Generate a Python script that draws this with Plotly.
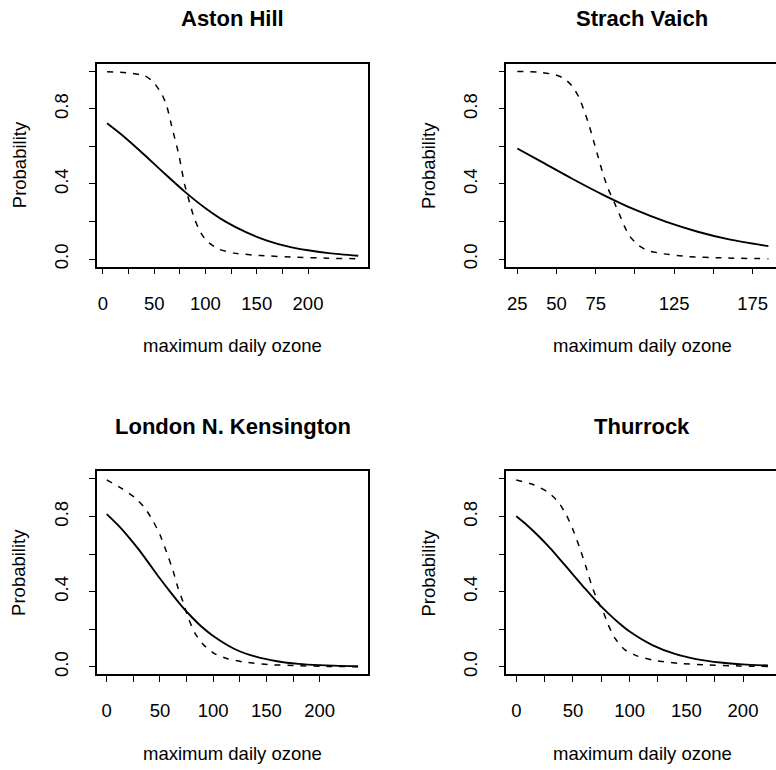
import plotly.graph_objects as go

W, H = 776, 770
FONT = "Liberation Sans, Arial, Helvetica, sans-serif"

titles = ["Aston Hill", "Strach Vaich", "London N. Kensington", "Thurrock"]
x_title = "maximum daily ozone"
y_title = "Probability"

# ---- Aston Hill ----
aston_solid_x = [4, 20, 40, 60, 80, 100, 120, 140, 160, 180, 200, 220, 249]
aston_solid_y = [0.723, 0.654, 0.557, 0.456, 0.358, 0.271, 0.198, 0.142, 0.099, 0.068, 0.047, 0.032, 0.018]
aston_dash_x = [4, 25, 41, 49, 57, 62, 66, 70, 74, 77, 80, 84.6, 88.8, 94.3, 100.8, 112, 128, 154, 187, 219, 249]
aston_dash_y = [0.998, 0.991, 0.975, 0.944, 0.882, 0.82, 0.732, 0.644, 0.556, 0.47, 0.39, 0.30, 0.222, 0.151, 0.099, 0.055, 0.032, 0.019, 0.011, 0.005, 0.002]

# ---- Strach Vaich ----
strach_solid_x = [25, 40, 60, 80, 100, 120, 140, 160, 185]
strach_solid_y = [0.589, 0.520, 0.428, 0.341, 0.263, 0.198, 0.146, 0.105, 0.069]
strach_dash_x = [25, 38, 48.7, 55, 60.4, 64.6, 67.8, 71, 73.7, 76.7, 79.4, 82.6, 86.9, 90, 93, 96.4, 101.7, 108, 118.6, 133.5, 154.7, 185]
strach_dash_y = [0.999, 0.996, 0.982, 0.961, 0.917, 0.856, 0.785, 0.706, 0.627, 0.539, 0.46, 0.38, 0.30, 0.24, 0.18, 0.125, 0.076, 0.046, 0.028, 0.014, 0.007, 0.002]

# ---- London N. Kensington ----
london_solid_x = [0, 10, 20, 30, 40, 50, 60, 70, 80, 90, 100, 120, 140, 160, 180, 200, 236]
london_solid_y = [0.813, 0.758, 0.695, 0.625, 0.548, 0.470, 0.396, 0.326, 0.264, 0.209, 0.164, 0.095, 0.054, 0.030, 0.016, 0.009, 0.003]
london_dash_x = [0, 14, 26.6, 36, 43.8, 50, 56, 62.5, 67, 72, 76.6, 82.8, 90.6, 101.6, 114, 129.7, 151.6, 176.6, 207.8, 236]
london_dash_y = [0.995, 0.95, 0.90, 0.844, 0.773, 0.703, 0.614, 0.508, 0.419, 0.34, 0.26, 0.18, 0.119, 0.069, 0.042, 0.025, 0.012, 0.007, 0.002, 0.001]

# ---- Thurrock ----
thurrock_solid_x = [0, 10, 20, 30, 40, 50, 60, 70, 80, 90, 100, 120, 140, 160, 180, 200, 222]
thurrock_solid_y = [0.801, 0.751, 0.694, 0.631, 0.562, 0.491, 0.421, 0.353, 0.291, 0.236, 0.188, 0.116, 0.069, 0.040, 0.023, 0.013, 0.007]
thurrock_dash_x = [0, 16, 28, 36.8, 44, 50, 56, 61.8, 66.8, 72, 76.5, 81, 86.8, 95.6, 107, 122, 142.6, 166, 195.6, 222]
thurrock_dash_y = [0.995, 0.968, 0.929, 0.88, 0.81, 0.73, 0.632, 0.526, 0.428, 0.349, 0.296, 0.225, 0.154, 0.092, 0.057, 0.034, 0.019, 0.011, 0.005, 0.002]

# tick definitions
y_tickvals = [0, 0.2, 0.4, 0.6, 0.8, 1.0]
y_ticktext = ["0.0", "", "0.4", "", "0.8", ""]
aston_xtickvals = [0, 25, 50, 75, 100, 125, 150, 175, 200]
aston_xticktext = ["0", "", "50", "", "100", "", "150", "", "200"]
strach_xtickvals = [25, 50, 75, 100, 125, 150, 175]
strach_xticktext = ["25", "50", "75", "", "125", "", "175"]
london_xtickvals = [0, 25, 50, 75, 100, 125, 150, 175, 200]
london_xticktext = ["0", "", "50", "", "100", "", "150", "", "200"]
thurrock_xtickvals = [0, 25, 50, 75, 100, 125, 150, 175, 200]
thurrock_xticktext = ["0", "", "50", "", "100", "", "150", "", "200"]

panels = [
    dict(sx=aston_solid_x, sy=aston_solid_y, dx=aston_dash_x, dy=aston_dash_y,
         tv=aston_xtickvals, tt=aston_xticktext, xr=[-6.1, 258.8],
         xd=[96.7 / W, 368.3 / W], yd=[(H - 267.7) / H, (H - 64) / H], right=False),
    dict(sx=strach_solid_x, sy=strach_solid_y, dx=strach_dash_x, dy=strach_dash_y,
         tv=strach_xtickvals, tt=strach_xticktext, xr=[18.0, 189.85],
         xd=[506.3 / W, 1.0], yd=[(H - 267.7) / H, (H - 64) / H], right=True),
    dict(sx=london_solid_x, sy=london_solid_y, dx=london_dash_x, dy=london_dash_y,
         tv=london_xtickvals, tt=london_xticktext, xr=[-9.4, 245.6],
         xd=[96.7 / W, 368.3 / W], yd=[(H - 677) / H, (H - 473.3) / H], right=False),
    dict(sx=thurrock_solid_x, sy=thurrock_solid_y, dx=thurrock_dash_x, dy=thurrock_dash_y,
         tv=thurrock_xtickvals, tt=thurrock_xticktext, xr=[-8.82, 229.1],
         xd=[506.3 / W, 1.0], yd=[(H - 677) / H, (H - 473.3) / H], right=True),
]

fig = go.Figure()
layout = dict(
    width=W, height=H, margin=dict(l=0, r=0, t=0, b=0),
    paper_bgcolor="white", plot_bgcolor="white", showlegend=False,
    font=dict(family=FONT, size=18.5, color="black"),
)
annotations = []

for i, p in enumerate(panels):
    n = "" if i == 0 else str(i + 1)
    xa, ya = "x" + n, "y" + n
    fig.add_trace(go.Scatter(x=p["sx"], y=p["sy"], mode="lines", xaxis=xa, yaxis=ya,
                             line=dict(color="black", width=1.9, shape="spline", smoothing=0.8)))
    fig.add_trace(go.Scatter(x=p["dx"], y=p["dy"], mode="lines", xaxis=xa, yaxis=ya,
                             line=dict(color="black", width=1.5, dash="6px,7px", shape="spline", smoothing=0.6)))
    layout["xaxis" + n] = dict(
        domain=p["xd"], anchor=ya, range=p["xr"], showgrid=False, zeroline=False,
        showline=True, mirror=True, linecolor="black", linewidth=1.5,
        ticks="outside", ticklen=6, tickwidth=1.2, tickcolor="black",
        tickvals=p["tv"], ticktext=p["tt"], ticklabelstandoff=13,
        tickfont=dict(family=FONT, size=18.5, color="black"),
    )
    layout["yaxis" + n] = dict(
        domain=p["yd"], anchor=xa, range=[-0.04, 1.04], showgrid=False, zeroline=False,
        showline=True, mirror=(not p["right"]), linecolor="black", linewidth=1.5,
        ticks="outside", ticklen=6, tickwidth=1.2, tickcolor="black",
        tickvals=y_tickvals, ticktext=y_ticktext, tickangle=-90, ticklabelstandoff=14,
        tickfont=dict(family=FONT, size=18.5, color="black"),
    )
    cx = (p["xd"][0] * W + (778 if p["right"] else p["xd"][1] * W)) / 2 / W
    top_px = H - p["yd"][1] * H
    bot_px = H - p["yd"][0] * H
    annotations.append(dict(text="<b>" + titles[i] + "</b>", x=cx, y=(H - (top_px - 45)) / H,
                            xref="paper", yref="paper", showarrow=False, xanchor="center", yanchor="middle",
                            font=dict(family=FONT, size=22, color="black")))
    annotations.append(dict(text=x_title, x=cx, y=(H - (bot_px + 79)) / H,
                            xref="paper", yref="paper", showarrow=False, xanchor="center", yanchor="middle",
                            font=dict(family=FONT, size=18.5, color="black")))
    ylab_x = 19 if not p["right"] else 428.7
    annotations.append(dict(text=y_title, x=ylab_x / W, y=(H - (top_px + bot_px) / 2) / H,
                            xref="paper", yref="paper", showarrow=False, xanchor="center", yanchor="middle",
                            textangle=-90, font=dict(family=FONT, size=18.5, color="black")))

layout["annotations"] = annotations
fig.update_layout(**layout)
fig.write_html("out.html")
